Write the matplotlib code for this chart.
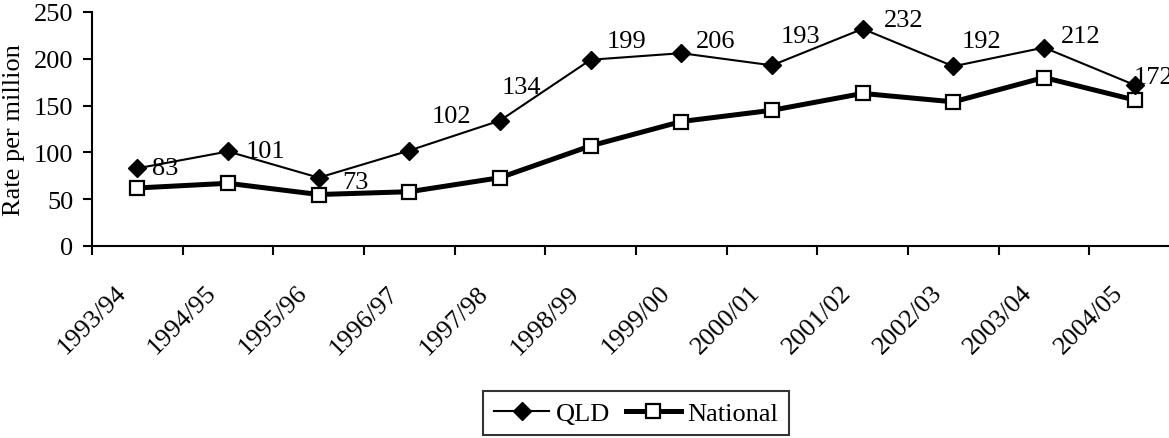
import matplotlib
matplotlib.use("Agg")
import matplotlib.pyplot as plt
import matplotlib.transforms as mtransforms
import numpy as np

years = ["1993/94", "1994/95", "1995/96", "1996/97", "1997/98", "1998/99",
         "1999/00", "2000/01", "2001/02", "2002/03", "2003/04", "2004/05"]
qld = [83, 101, 73, 102, 134, 199, 206, 193, 232, 192, 212, 172]
national = [62, 67, 55, 58, 73, 107, 133, 145, 163, 154, 180, 156]

# label nudges in pixels (dx, dy) relative to each QLD point, as placed in the original
label_offsets = [(16, 0), (19, 0), (25, -4), (24, 35), (3, 34), (17, 19),
                 (16, 12), (10, 29), (23, 9), (10, 25), (18, 12), (0, 8)]

plt.rcParams['font.family'] = ['Liberation Serif', 'DejaVu Serif']
plt.rcParams['font.size'] = 19

W, H = 1169, 439
fig = plt.figure(figsize=(W / 100, H / 100), dpi=100)
# plot area runs a little past the right edge of the picture, like the original
ax = fig.add_axes([92 / W, (H - 247) / H, 1088 / W, 234 / H])

x = np.arange(len(years))
ax.plot(x, qld, color='black', lw=1.5, marker='D', ms=9, mfc='black', mec='black', label='QLD', zorder=3)
ax.plot(x, national, color='black', lw=3.6, marker='s', ms=10, mfc='white', mec='black', mew=1.6,
        label='National', zorder=2)

for i, v in enumerate(qld):
    dx, dy = label_offsets[i]
    ax.annotate(str(v), (x[i], v), xytext=(dx * 0.72 - 1, dy * 0.72), textcoords='offset points',
                ha='left', va='center', fontsize=19, clip_on=False)

ax.set_xlim(-0.5, len(years) - 0.5)
ax.set_ylim(0, 250)
ax.set_yticks(np.arange(0, 251, 50))

ax.set_xticks(x)
ax.set_xticklabels(years, rotation=45, ha='right', va='center', rotation_mode='anchor')
ax.set_xticks(np.arange(-0.5, len(years), 1), minor=True)
ax.tick_params(axis='x', which='major', length=0, pad=0)
ax.tick_params(axis='x', which='minor', length=6.5, width=1.5, direction='out')
ax.tick_params(axis='y', length=6.5, width=1.5, direction='out', pad=7)

shift = mtransforms.ScaledTranslation(-15 / 100, -43 / 100, fig.dpi_scale_trans)
for lab in ax.get_xticklabels():
    lab.set_transform(lab.get_transform() + shift)

for s in ['top', 'right']:
    ax.spines[s].set_visible(False)
for s in ['left', 'bottom']:
    ax.spines[s].set_linewidth(1.5)

ax.set_ylabel('Rate per million', va='center')
ax.yaxis.set_label_coords((14 - 92) / 1088, 0.5)

leg = fig.legend(loc='center', bbox_to_anchor=(636 / W, 1 - 414 / H), ncol=2, frameon=True,
                 fancybox=False, edgecolor='black', handlelength=2.1, handletextpad=0.23,
                 columnspacing=0.6, borderpad=0.4, borderaxespad=0, fontsize=19)
leg.get_frame().set_linewidth(1.5)

fig.savefig('out.png', dpi=100)
